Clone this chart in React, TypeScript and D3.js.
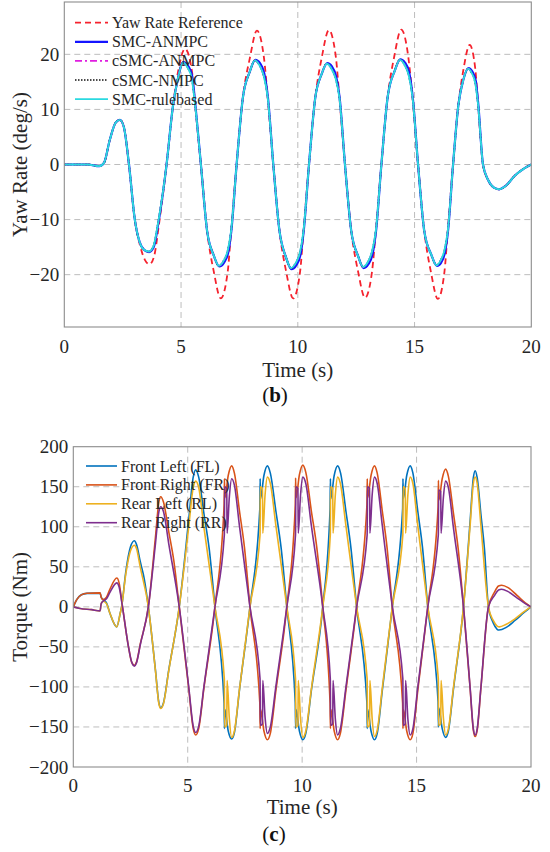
import React from 'react';
import * as d3 from 'd3';

type Pt = [number, number];

const timeTicks = [0, 5, 10, 15, 20];
const yawTicks = [-20, -10, 0, 10, 20];
const torqueTicks = [-200, -150, -100, -50, 0, 50, 100, 150, 200];

// yaw rate, panel (b): [time s, deg/s]
const yawReference: Pt[] = [
  [0, 0], [1.0, 0], [1.5, -0.3], [1.7, 0.3], [1.95, 4.5], [2.2, 7.6], [2.38, 8.1], [2.55, 6.8], [2.77, 0],
  [3.02, -10], [3.25, -14.8], [3.45, -17.3], [3.65, -18.1], [3.85, -16.6], [4.05, -11], [4.38, 0],
  [4.65, 10.5], [4.87, 16.8], [5.17, 21], [5.47, 16.8], [5.61, 10.5], [5.85, 0],
  [6.12, -12.2], [6.4, -19.4], [6.7, -24.3], [7.0, -19.4], [7.14, -12.2], [7.38, 0],
  [7.65, 12.2], [7.95, 19.4], [8.25, 24.3], [8.55, 19.4], [8.71, 12.2], [8.95, 0],
  [9.22, -12.2], [9.5, -19.4], [9.8, -24.3], [10.1, -19.4], [10.24, -12.2], [10.48, 0],
  [10.75, 12.2], [11.03, 19.5], [11.33, 24.4], [11.63, 19.5], [11.78, 12.2], [12.02, 0],
  [12.29, -12.1], [12.58, -19.4], [12.88, -24.2], [13.18, -19.4], [13.34, -12.1], [13.58, 0],
  [13.85, 12.3], [14.13, 19.6], [14.43, 24.5], [14.73, 19.6], [14.91, 12.3], [15.15, 0],
  [15.42, -12.2], [15.7, -19.5], [16.0, -24.4], [16.28, -19.5], [16.42, -12.2], [16.65, 0],
  [16.88, 10.9], [17.1, 17.4], [17.36, 21.7], [17.6, 17.4], [17.72, 10.9], [17.93, 0],
  [18.15, -2.8], [18.4, -4.2], [18.62, -4.5], [18.9, -3.9], [19.3, -2], [19.7, -0.7], [20, 0],
];

const yawSmcAnmpc: Pt[] = [
  [0, 0], [1.0, 0], [1.5, -0.3], [1.7, 0.3], [1.95, 4.5], [2.2, 7.6], [2.38, 8.1], [2.55, 6.8], [2.77, 0],
  [3.02, -10], [3.22, -14], [3.42, -15.5], [3.63, -15.9], [3.83, -15], [4.03, -10.6], [4.38, 0],
  [4.65, 10.5], [4.86, 15.5], [5.1, 18.6], [5.3, 17.9], [5.48, 16.0], [5.62, 10.5], [5.85, 0],
  [6.12, -12.2], [6.4, -16.5], [6.64, -18.5], [6.84, -17.8], [7.02, -16.0], [7.15, -12.2], [7.38, 0],
  [7.65, 12.2], [7.94, 16.8], [8.18, 19.0], [8.38, 18.4], [8.56, 16.6], [8.72, 12.2], [8.95, 0],
  [9.22, -12.2], [9.49, -16.8], [9.73, -19.0], [9.93, -18.3], [10.11, -16.5], [10.25, -12.2], [10.48, 0],
  [10.75, 12.2], [11.02, 16.4], [11.26, 18.4], [11.46, 17.8], [11.64, 16.0], [11.79, 12.2], [12.02, 0],
  [12.29, -12.1], [12.58, -16.6], [12.82, -18.8], [13.02, -18.1], [13.2, -16.3], [13.35, -12.1], [13.58, 0],
  [13.85, 12.3], [14.15, 17.0], [14.39, 19.1], [14.59, 18.5], [14.77, 16.7], [14.92, 12.3], [15.15, 0],
  [15.42, -12.2], [15.72, -16.4], [15.96, -18.4], [16.14, -17.8], [16.3, -16.0], [16.43, -12.2], [16.65, 0],
  [16.88, 10.9], [17.09, 15.4], [17.31, 17.5], [17.47, 16.9], [17.62, 15.2], [17.73, 10.9], [17.93, 0],
  [18.15, -2.8], [18.4, -4.2], [18.62, -4.5], [18.9, -3.9], [19.3, -2], [19.7, -0.7], [20, 0],
];

const yawSmcRulebased: Pt[] = [
  [0, 0], [1.0, 0], [1.5, -0.3], [1.7, 0.3], [1.95, 4.5], [2.2, 7.6], [2.38, 8.1], [2.55, 6.8], [2.77, 0],
  [3.02, -10], [3.22, -14], [3.42, -15.5], [3.62, -15.8], [3.82, -14.8], [4.02, -10.5], [4.38, 0],
  [4.65, 10.5], [4.86, 15.5], [5.08, 18.5], [5.28, 17.6], [5.46, 15.6], [5.61, 10.5], [5.85, 0],
  [6.12, -12.2], [6.4, -16.5], [6.62, -18.4], [6.82, -17.5], [7.0, -15.6], [7.14, -12.2], [7.38, 0],
  [7.65, 12.2], [7.94, 16.8], [8.16, 18.9], [8.36, 18.0], [8.54, 16.1], [8.71, 12.2], [8.95, 0],
  [9.22, -12.2], [9.49, -16.8], [9.71, -18.8], [9.91, -17.9], [10.09, -16.0], [10.24, -12.2], [10.48, 0],
  [10.75, 12.2], [11.02, 16.4], [11.24, 18.3], [11.44, 17.4], [11.62, 15.6], [11.78, 12.2], [12.02, 0],
  [12.29, -12.1], [12.58, -16.6], [12.8, -18.6], [13.0, -17.7], [13.18, -15.8], [13.34, -12.1], [13.58, 0],
  [13.85, 12.3], [14.15, 17.0], [14.37, 19.0], [14.57, 18.1], [14.75, 16.2], [14.91, 12.3], [15.15, 0],
  [15.42, -12.2], [15.72, -16.4], [15.94, -18.3], [16.12, -17.4], [16.28, -15.6], [16.42, -12.2], [16.65, 0],
  [16.88, 10.9], [17.09, 15.4], [17.29, 17.4], [17.45, 16.6], [17.6, 14.8], [17.72, 10.9], [17.93, 0],
  [18.15, -2.8], [18.4, -4.2], [18.62, -4.5], [18.9, -3.9], [19.3, -2], [19.7, -0.7], [20, 0],
];

// the two cSMC runs lie on top of the rule-based one in the figure
const yawCsmcAnmpc: Pt[] = yawSmcRulebased;
const yawCsmcNmpc: Pt[] = yawSmcRulebased;

// wheel torque, panel (c): [time s, Nm]
const torqueFL: Pt[] = [
  [0, 0], [0.15, 9], [0.35, 15], [0.6, 16.8], [1.17, 17.2], [1.22, 12], [1.3, 9], [1.45, 5], [1.6, -8], [1.9, -25],
  [2.05, -8], [2.11, 0], [2.3, 45], [2.5, 75], [2.67, 82.5],
  [2.76, 78], [2.93, 56], [3.1, 35], [3.28, 0], [3.59, -79], [3.74, -120], [3.82, -126],
  [3.94, -120], [4.17, -79], [4.63, 0], [5.04, 108], [5.24, 162], [5.35, 171],
  [5.48, 162], [5.71, 116], [5.94, 72], [6.19, 0], [6.59, -120], [6.605, -152], [6.62, -128], [6.77, -155], [6.92, -165],
  [7.04, -157], [7.26, -104], [7.72, 0], [8.15, 122], [8.165, 160], [8.18, 135], [8.33, 164], [8.48, 176],
  [8.61, 167], [8.85, 120], [9.08, 74], [9.33, 0], [9.7, -120], [9.715, -152], [9.73, -128], [9.88, -155], [10.03, -166],
  [10.16, -158], [10.4, -105], [10.9, 0], [11.22, 122], [11.235, 160], [11.25, 135], [11.4, 164], [11.55, 176],
  [11.68, 167], [11.91, 120], [12.13, 74], [12.38, 0], [12.83, -120], [12.845, -152], [12.86, -128], [13.01, -155], [13.16, -166],
  [13.28, -158], [13.5, -105], [13.94, 0], [14.39, 122], [14.405, 160], [14.42, 135], [14.57, 164], [14.72, 176],
  [14.84, 167], [15.05, 120], [15.26, 74], [15.49, 0], [15.94, -118], [15.955, -150], [15.97, -126], [16.12, -152], [16.27, -163],
  [16.39, -155], [16.61, -103], [17.05, 0], [17.34, 107], [17.48, 161], [17.56, 170],
  [17.65, 161], [17.81, 116], [17.97, 71], [18.14, 0], [18.35, -20], [18.52, -28], [18.6, -29], [18.9, -26],
  [19.3, -17], [19.7, -7], [20, 0],
];

const torqueFR: Pt[] = [
  [0, 0], [0.15, 9], [0.35, 15], [0.6, 17], [1.17, 17.5], [1.22, 12], [1.3, 9], [1.45, 12], [1.6, 22], [1.9, 36],
  [2.0, 30], [2.15, 0], [2.4, -48], [2.55, -69], [2.67, -73],
  [2.76, -69], [2.93, -46], [3.28, 0], [3.59, 87], [3.74, 131], [3.82, 137.5],
  [3.94, 131], [4.17, 94], [4.39, 58], [4.63, 0], [5.04, -101], [5.24, -152], [5.35, -160],
  [5.48, -152], [5.71, -101], [6.19, 0], [6.59, 127], [6.605, 160], [6.62, 136], [6.77, 164], [6.92, 176],
  [7.04, 167], [7.26, 120], [7.48, 74], [7.72, 0], [8.15, -120], [8.165, -152], [8.18, -128], [8.33, -155], [8.48, -166],
  [8.61, -158], [8.85, -105], [9.33, 0], [9.7, 127], [9.715, 161], [9.73, 136], [9.88, 165], [10.03, 177],
  [10.16, 168], [10.4, 120], [10.64, 74], [10.9, 0], [11.22, -120], [11.235, -152], [11.25, -128], [11.4, -155], [11.55, -166],
  [11.67, -158], [11.91, -105], [12.38, 0], [12.83, 127], [12.845, 160], [12.86, 136], [13.01, 164], [13.16, 176],
  [13.28, 167], [13.5, 120], [13.71, 74], [13.94, 0], [14.39, -120], [14.405, -152], [14.42, -128], [14.57, -155], [14.72, -166],
  [14.84, -158], [15.05, -105], [15.49, 0], [15.94, 124], [15.955, 158], [15.97, 133], [16.12, 160], [16.27, 172],
  [16.39, 163], [16.61, 117], [16.82, 72], [17.05, 0], [17.34, -102], [17.48, -154], [17.56, -162],
  [17.65, -154], [17.81, -102], [18.14, 0], [18.4, 18], [18.58, 26], [18.72, 27], [19.0, 24], [19.4, 14],
  [19.75, 5], [20, 0],
];

const torqueRL: Pt[] = [
  [0, 0], [0.3, -2], [0.8, -3.5], [1.17, -5], [1.22, 4], [1.3, 7], [1.45, 4], [1.6, -8], [1.9, -25],
  [2.05, -8], [2.11, 0], [2.3, 42], [2.5, 70], [2.67, 77],
  [2.76, 73], [2.93, 49], [3.28, 0], [3.59, -80], [3.74, -121], [3.82, -127],
  [3.94, -121], [4.17, -80], [4.63, 0], [5.04, 99], [5.24, 149], [5.35, 157],
  [5.48, 149], [5.71, 99], [6.19, 0], [6.6, -90], [6.615, -150], [6.705, -148], [6.72, -92], [6.82, -140], [6.92, -163],
  [7.04, -155], [7.26, -103], [7.72, 0], [8.16, 90], [8.175, 150], [8.265, 148], [8.28, 92], [8.38, 140], [8.48, 162],
  [8.61, 154], [8.85, 102], [9.33, 0], [9.71, -90], [9.725, -150], [9.815, -148], [9.83, -92], [9.93, -140], [10.03, -163],
  [10.16, -155], [10.4, -103], [10.9, 0], [11.23, 90], [11.245, 150], [11.335, 148], [11.35, 92], [11.45, 140], [11.55, 162],
  [11.67, 154], [11.91, 102], [12.38, 0], [12.84, -90], [12.855, -150], [12.945, -148], [12.96, -92], [13.06, -140], [13.16, -162],
  [13.28, -154], [13.5, -102], [13.94, 0], [14.4, 90], [14.415, 150], [14.505, 148], [14.52, 92], [14.62, 140], [14.72, 162],
  [14.84, 154], [15.05, 102], [15.49, 0], [15.95, -90], [15.965, -148], [16.055, -146], [16.07, -92], [16.17, -138], [16.27, -160],
  [16.39, -152], [16.61, -101], [17.05, 0], [17.34, 102], [17.48, 154], [17.56, 162],
  [17.65, 154], [17.81, 102], [18.14, 0], [18.35, -17], [18.52, -24], [18.62, -25], [18.9, -22], [19.3, -15],
  [19.7, -6], [20, 0],
];

const torqueRR: Pt[] = [
  [0, 0], [0.3, -2], [0.8, -3.5], [1.17, -5], [1.22, 4], [1.3, 7], [1.45, 10], [1.6, 18], [1.9, 30],
  [2.0, 25], [2.15, 0], [2.4, -48], [2.55, -69], [2.67, -74],
  [2.76, -70], [2.93, -47], [3.28, 0], [3.59, 79], [3.74, 119], [3.82, 125],
  [3.94, 119], [4.17, 79], [4.63, 0], [5.04, -99], [5.24, -149], [5.35, -157],
  [5.48, -149], [5.71, -99], [6.19, 0], [6.6, 90], [6.615, 150], [6.705, 148], [6.72, 92], [6.82, 138], [6.92, 160],
  [7.04, 152], [7.26, 101], [7.72, 0], [8.16, -90], [8.175, -148], [8.265, -146], [8.28, -92], [8.38, -138], [8.48, -158],
  [8.61, -150], [8.85, -100], [9.33, 0], [9.71, 90], [9.725, 150], [9.815, 148], [9.83, 92], [9.93, 140], [10.03, 162],
  [10.16, 154], [10.4, 102], [10.9, 0], [11.23, -90], [11.245, -148], [11.335, -146], [11.35, -92], [11.45, -140], [11.55, -160],
  [11.67, -152], [11.91, -101], [12.38, 0], [12.84, 90], [12.855, 150], [12.945, 148], [12.96, 92], [13.06, 140], [13.16, 162],
  [13.28, 154], [13.5, 102], [13.94, 0], [14.4, -90], [14.415, -148], [14.505, -146], [14.52, -92], [14.62, -140], [14.72, -160],
  [14.84, -152], [15.05, -101], [15.49, 0], [15.95, 90], [15.965, 146], [16.055, 144], [16.07, 92], [16.17, 136], [16.27, 157],
  [16.39, 149], [16.61, 99], [17.05, 0], [17.34, -101], [17.48, -152], [17.56, -160],
  [17.65, -152], [17.81, -101], [18.14, 0], [18.4, 14], [18.58, 21], [18.72, 22], [19.0, 19], [19.4, 11],
  [19.75, 4], [20, 0],
];

interface Series {
  name: string;
  data: Pt[];
  color: string;
  width: number;
  dash?: string;
}

const yawSeries: Series[] = [
  { name: 'Yaw Rate Reference', data: yawReference, color: '#f5222d', width: 1.8, dash: '6,4' },
  { name: 'SMC-ANMPC', data: yawSmcAnmpc, color: '#1414ff', width: 2.2 },
  { name: 'cSMC-ANMPC', data: yawCsmcAnmpc, color: '#e01ee0', width: 1.6, dash: '7,3,2,3' },
  { name: 'cSMC-NMPC', data: yawCsmcNmpc, color: '#111111', width: 1.6, dash: '1.5,1.5' },
  { name: 'SMC-rulebased', data: yawSmcRulebased, color: '#2ad9e0', width: 1.9 },
];

const torqueSeries: Series[] = [
  { name: 'Front Left (FL)', data: torqueFL, color: '#0072bd', width: 1.6 },
  { name: 'Front Right (FR)', data: torqueFR, color: '#d95319', width: 1.6 },
  { name: 'Rear Left (RL)', data: torqueRL, color: '#edb120', width: 1.6 },
  { name: 'Rear Right (RR)', data: torqueRR, color: '#7e2f8e', width: 1.6 },
];

const serif = '"Liberation Serif", "Times New Roman", serif';
const ink = '#262626';

const fmt = (v: number) => (v < 0 ? '\u2212' + Math.abs(v) : String(v));

interface PanelProps {
  id: string;
  series: Series[];
  yTicks: number[];
  yDomain: [number, number];
  left: number;
  right: number;
  top: number;
  bottom: number;
  yLabel: string;
  xTickBase: number;
  xLabelBase: number;
  tag: string;
  tagX: number;
  tagBase: number;
  legX: number;
  legLen: number;
  legTop: number;
  legStep: number;
}

function Panel(p: PanelProps) {
  const x = d3.scaleLinear().domain([0, 20]).range([p.left, p.right]);
  const y = d3.scaleLinear().domain(p.yDomain).range([p.bottom, p.top]);
  const line = d3
    .line<Pt>()
    .x(d => x(d[0]))
    .y(d => y(d[1]))
    .curve(d3.curveMonotoneX);
  const [y0, y1] = p.yDomain;
  const midY = (p.top + p.bottom) / 2;

  return (
    <g>
      <defs>
        <clipPath id={p.id}>
          <rect x={p.left} y={p.top} width={p.right - p.left} height={p.bottom - p.top} />
        </clipPath>
      </defs>

      {timeTicks.filter(t => t > 0 && t < 20).map(t => (
        <line key={'gx' + t} x1={x(t)} x2={x(t)} y1={p.top} y2={p.bottom}
          stroke="#bdbdbd" strokeWidth={1} strokeDasharray="6,4" />
      ))}
      {p.yTicks.filter(v => v > y0 && v < y1).map(v => (
        <line key={'gy' + v} x1={p.left} x2={p.right} y1={y(v)} y2={y(v)}
          stroke="#bdbdbd" strokeWidth={1} strokeDasharray="6,4" />
      ))}

      <g clipPath={`url(#${p.id})`}>
        {p.series.map(s => (
          <path key={s.name} d={line(s.data) ?? ''} fill="none" stroke={s.color}
            strokeWidth={s.width} strokeDasharray={s.dash} strokeLinejoin="round" />
        ))}
      </g>

      <rect x={p.left} y={p.top} width={p.right - p.left} height={p.bottom - p.top}
        fill="none" stroke="#8c8c8c" strokeWidth={1.1} />

      {p.yTicks.map(v => (
        <text key={'ty' + v} x={p.left - 5} y={y(v) + 6.5} textAnchor="end"
          fontFamily={serif} fontSize={19} fill={ink}>{fmt(v)}</text>
      ))}
      {timeTicks.map(t => (
        <text key={'tx' + t} x={x(t)} y={p.xTickBase} textAnchor="middle"
          fontFamily={serif} fontSize={19} fill={ink}>{t}</text>
      ))}

      <text x={(p.left + p.right) / 2} y={p.xLabelBase} textAnchor="middle"
        fontFamily={serif} fontSize={21} fill={ink}>Time (s)</text>
      <text transform={`translate(27,${midY}) rotate(-90)`} textAnchor="middle"
        fontFamily={serif} fontSize={21} fill={ink}>{p.yLabel}</text>
      <text x={p.tagX} y={p.tagBase} textAnchor="middle" fontFamily={serif} fontSize={21} fill="#111">
        (<tspan fontWeight="bold">{p.tag}</tspan>)
      </text>

      {p.series.map((s, i) => {
        const ly = p.legTop + i * p.legStep;
        return (
          <g key={'lg' + s.name}>
            <line x1={p.legX} x2={p.legX + p.legLen} y1={ly} y2={ly} stroke={s.color}
              strokeWidth={s.width} strokeDasharray={s.dash} />
            <text x={p.legX + p.legLen + 4} y={ly + 5.5} fontFamily={serif} fontSize={16} fill={ink}>
              {s.name}
            </text>
          </g>
        );
      })}
    </g>
  );
}

export default function App() {
  return (
    <svg width={550} height={852} viewBox="0 0 550 852"
      style={{ position: 'absolute', left: 0, top: 0, background: '#fff' }}>
      <rect width={550} height={852} fill="#fff" />
      <Panel id="clip-b" series={yawSeries} yTicks={yawTicks} yDomain={[-29.5, 29.5]}
        left={64.3} right={531.3} top={2} bottom={327} yLabel="Yaw Rate (deg/s)"
        xTickBase={353} xLabelBase={377} tag="b" tagX={275} tagBase={402}
        legX={75} legLen={33} legTop={22.7} legStep={19.1} />
      <Panel id="clip-c" series={torqueSeries} yTicks={torqueTicks} yDomain={[-200, 200]}
        left={73.3} right={531} top={446.7} bottom={767} yLabel="Torque (Nm)"
        xTickBase={792} xLabelBase={814} tag="c" tagX={274} tagBase={841}
        legX={86} legLen={31} legTop={466} legStep={18.9} />
    </svg>
  );
}
